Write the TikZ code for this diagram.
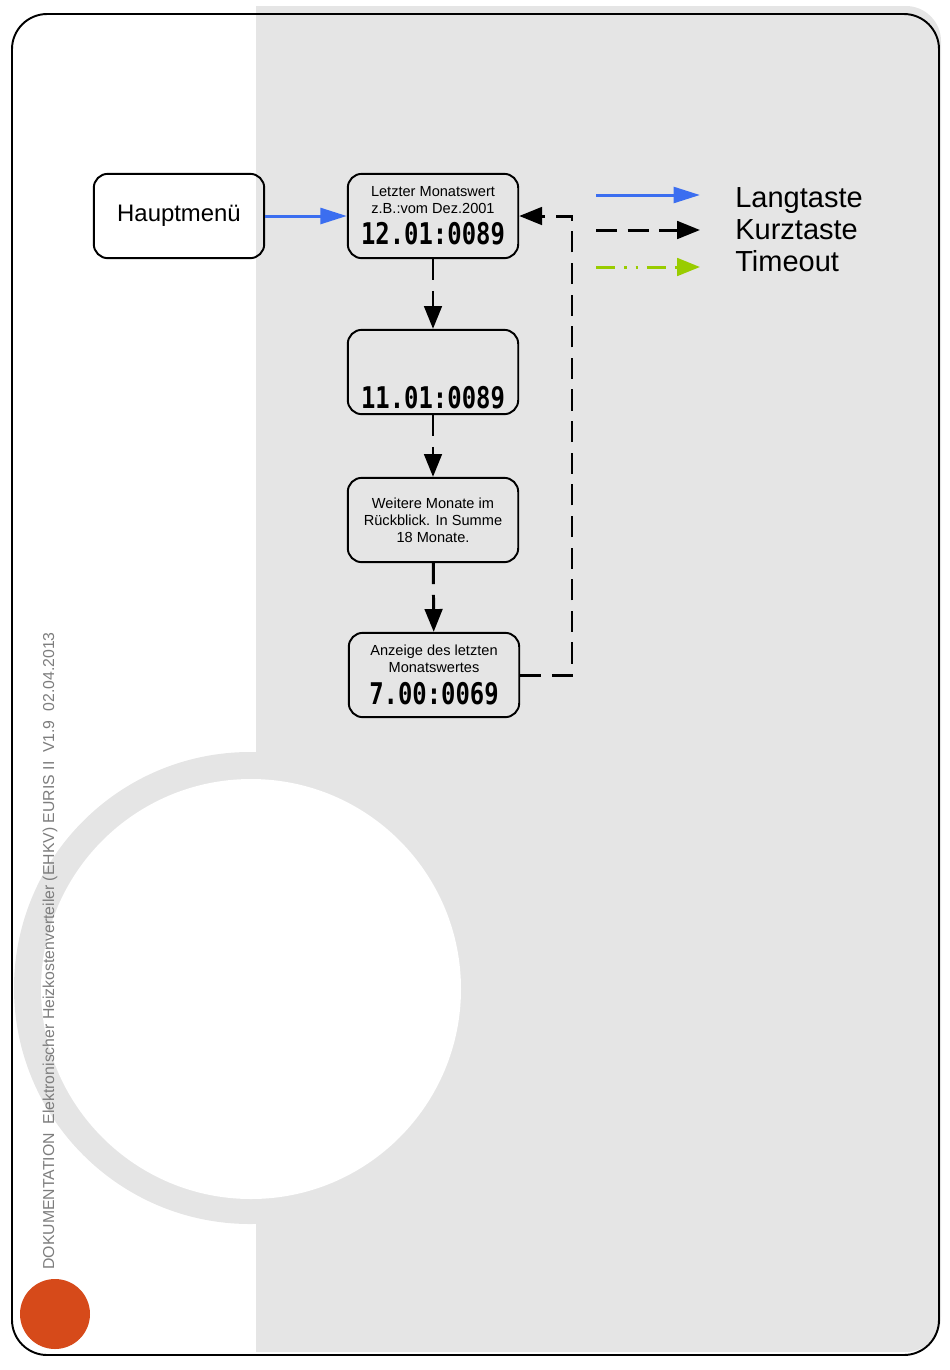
\documentclass[tikz,border=0pt]{standalone}
\usepackage{fontspec}
\usepackage{graphicx}
\setmainfont{Liberation Sans}
\newfontfamily\lcdfont{DejaVu Sans Mono}
\usetikzlibrary{arrows.meta}

\definecolor{langblue}{RGB}{59,110,240}
\definecolor{timeoutgreen}{RGB}{153,204,0}
\definecolor{pagegray}{RGB}{229,229,229}
\definecolor{dotorange}{RGB}{214,74,26}
\definecolor{footgray}{RGB}{125,125,125}

\newcommand{\lcd}[1]{\scalebox{0.8}[1]{\lcdfont\bfseries\fontsize{17}{18}\selectfont #1}}

\tikzset{
  menu/.style={
    rectangle,
    draw,
    rounded corners=8pt,
    line width=1.1pt,
    minimum width=97pt,
    minimum height=48pt,
    inner sep=2pt,
    text centered,
    align=center,
    font=\fontsize{8.3}{9.7}\selectfont
  },
  lang/.style={draw=langblue, line width=1.7pt, -{Triangle[length=15pt,width=9pt]}},
  kurz/.style={line width=1.7pt, dash pattern=on 12pt off 6pt, -{Triangle[length=13pt,width=10pt]}},
  timeout/.style={draw=timeoutgreen, line width=1.7pt,
    dash pattern=on 11pt off 5pt on 1.5pt off 5pt on 1.5pt off 5pt,
    -{Triangle[length=13pt,width=10pt]}},
  legend/.style={anchor=base west, inner sep=0pt, font=\fontsize{16.5}{20}\selectfont},
}

\begin{document}
\begin{tikzpicture}[x=0.02cm, y=-0.02cm]
  \useasboundingbox (0,0) rectangle (950,1370);
  \fill[pagegray] (256,1352) -- (256,6) [rounded corners=20pt] -- (941,6) -- (941,1352) [sharp corners] -- cycle;
  \fill[pagegray] (250,988) circle (236);
  \fill[white] (251,989) circle (210);
  \draw[line width=1.1pt, rounded corners=20pt] (12,14) rectangle (939,1355);
  \fill[dotorange] (55,1314) circle (35);
  \node[rotate=90, anchor=west, inner sep=0pt, text=footgray, font=\fontsize{9}{10}\selectfont] (foot) at (50,1270)
    {DOKUMENTATION\ \ Elektronischer Heizkostenverteiler (EHKV) EURIS II\ \ V1.9\ \ 02.04.2013};

  \node[menu, font=\fontsize{13.6}{16}\selectfont] (haupt) at (179,216) {Hauptmenü};
  \node[menu] (m12) at (433,216) {Letzter Monatswert\\z.B.:vom Dez.2001\\[4pt]\lcd{12.01:0089}};
  \node[menu, text height=41pt, text depth=0pt] (m11) at (433,372) {\lcd{11.01:0089}};
  \node[menu] (weitere) at (433,520) {Weitere Monate im\\Rückblick. In Summe\\18 Monate.};
  \node[menu] (m7) at (434,675) {Anzeige des letzten\\Monatswertes\\[4pt]\lcd{7.00:0069}};
  \coordinate (back) at (572,216);

  \draw[lang] (haupt) -- (m12);
  \draw[kurz] (m12) -- (m11);
  \draw[kurz] (m11) -- (weitere);
  \draw[kurz] (weitere) -- (m7);
  \draw[kurz] (m7.east) -| (back) -- (m12.east);

  \coordinate (l1) at (596,195);
  \coordinate (l2) at (596,230);
  \coordinate (l3) at (596,267);
  \draw[lang] (l1) -- ++(104,0);
  \draw[kurz] (l2) -- ++(104,0);
  \draw[timeout] (l3) -- ++(104,0);
  \node[legend] (langtaste) at (735,207) {Langtaste};
  \node[legend] (kurztaste) at (735,239) {Kurztaste};
  \node[legend] (timeouttxt) at (735,271) {Timeout};
\end{tikzpicture}
\end{document}
